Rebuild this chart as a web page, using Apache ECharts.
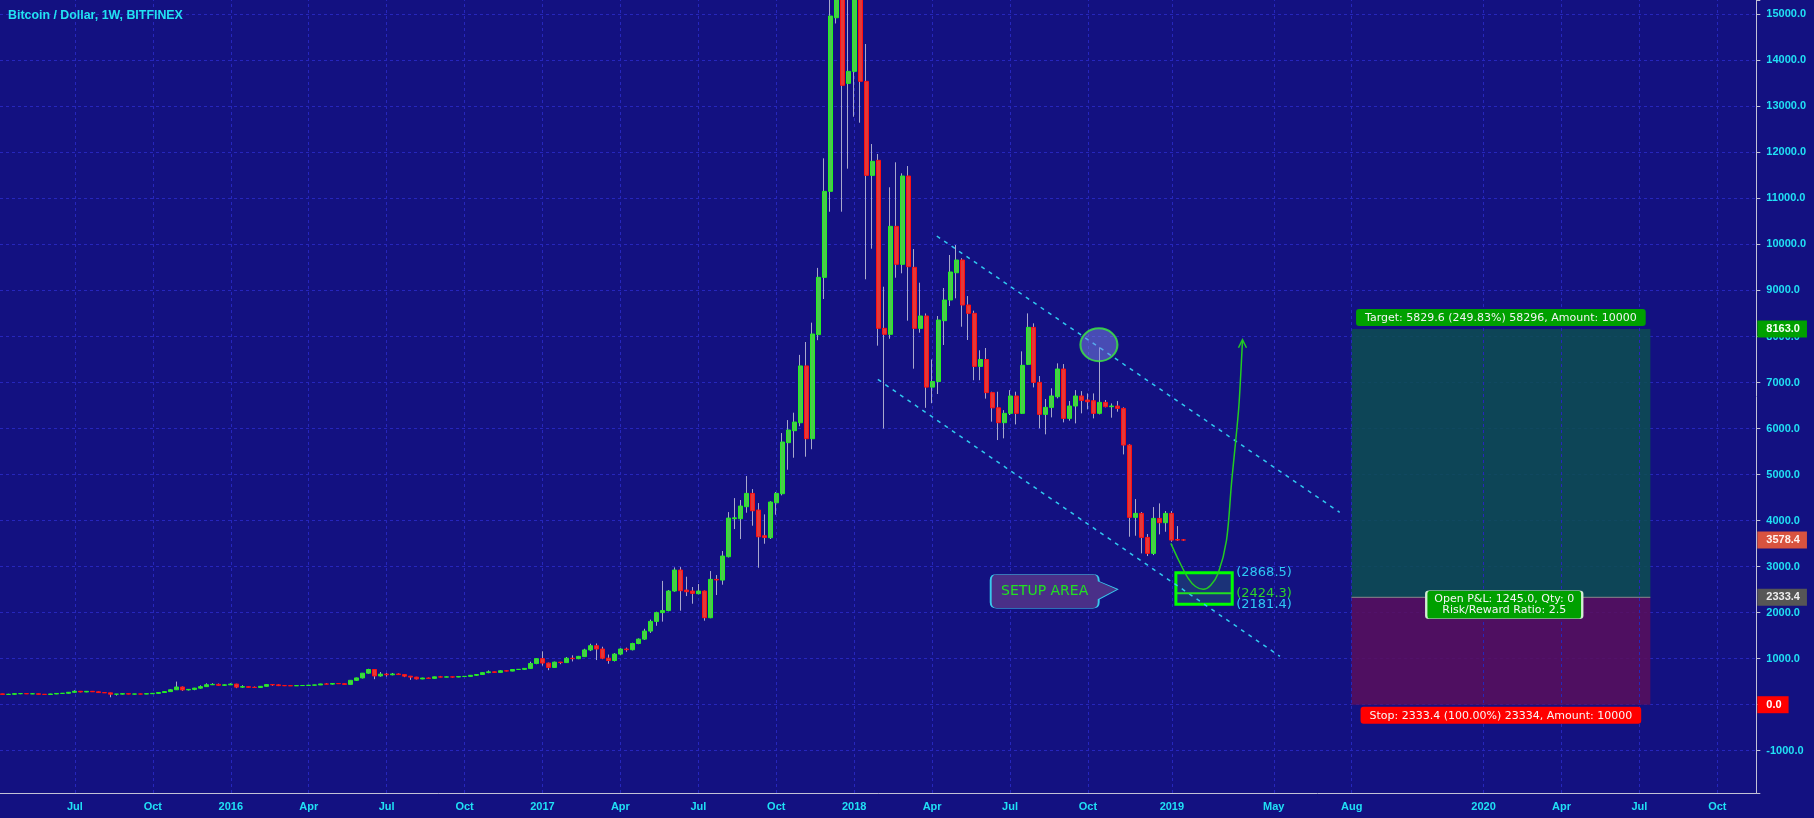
<!DOCTYPE html>
<html>
<head>
<meta charset="utf-8">
<title>Bitcoin / Dollar, 1W, BITFINEX</title>
<script src="https://cdn.jsdelivr.net/npm/echarts@6/dist/echarts.min.js"></script>
<style>
  html, body { margin: 0; padding: 0; background: #131181; }
  #chart { width: 1814px; height: 818px; }
</style>
</head>
<body>
<div id="chart"></div>
<script>
// weekly candles, [open, close, low, high], first week starts 2015-04-13
const ohlc2015 = [
  [236, 223, 218, 237], [223, 227, 219, 237], [227, 240, 223, 245], [240, 241, 229, 247],
  [241, 236, 232, 245], [236, 238, 231, 243], [238, 226, 225, 241], [226, 223, 221, 232],
  [223, 233, 222, 237], [233, 245, 230, 254], [245, 249, 240, 251], [249, 270, 245, 272],
  [270, 292, 262, 312], [292, 277, 270, 295], [277, 291, 272, 298], [291, 281, 280, 298],
  [281, 264, 260, 285], [264, 258, 257, 272], [258, 229, 162, 260], [229, 230, 199, 232],
  [230, 240, 225, 241], [240, 231, 228, 245], [231, 233, 224, 235], [233, 232, 226, 238],
  [232, 239, 230, 241], [239, 247, 235, 249], [247, 265, 245, 272], [265, 285, 264, 287],
  [285, 325, 282, 336], [325, 385, 320, 502], [385, 322, 300, 395], [322, 333, 309, 340],
  [333, 360, 315, 366], [360, 393, 350, 420], [393, 434, 390, 465], [434, 442, 427, 467],
  [442, 422, 415, 460], [422, 432, 414, 440]
];
const ohlc2016 = [
  [432, 448, 430, 465], [448, 382, 360, 455], [382, 392, 370, 423], [392, 378, 373, 400],
  [378, 375, 364, 395], [375, 400, 372, 404], [400, 437, 398, 446], [437, 432, 412, 440],
  [432, 415, 405, 440], [415, 414, 405, 420], [414, 410, 408, 420], [410, 416, 407, 418],
  [416, 418, 410, 421], [418, 424, 414, 425], [424, 430, 421, 433], [430, 451, 427, 454],
  [451, 447, 445, 470], [447, 461, 440, 463], [461, 456, 450, 462], [456, 442, 440, 458],
  [442, 530, 440, 530], [530, 582, 520, 587], [582, 685, 572, 685], [685, 765, 674, 780],
  [765, 625, 555, 770], [625, 665, 610, 710], [665, 650, 610, 690], [650, 668, 640, 690],
  [668, 655, 645, 680], [655, 620, 600, 660], [620, 600, 540, 625], [600, 560, 550, 605],
  [560, 580, 555, 585], [580, 572, 565, 590], [572, 606, 565, 608], [606, 600, 595, 625],
  [600, 605, 598, 612], [605, 601, 590, 608], [601, 613, 598, 616], [613, 616, 608, 620],
  [616, 639, 612, 645], [639, 656, 630, 660], [656, 697, 652, 705], [697, 715, 685, 745],
  [715, 702, 690, 718], [702, 738, 700, 750], [738, 731, 725, 748], [731, 765, 728, 772],
  [765, 769, 757, 774], [769, 789, 763, 790], [789, 895, 785, 935], [895, 1000, 880, 1005]
];
const ohlc2017 = [
  [1000, 905, 850, 1160], [905, 810, 750, 915], [810, 925, 805, 935], [925, 915, 880, 930],
  [915, 1010, 910, 1035], [1010, 1000, 940, 1073], [1000, 1050, 990, 1060], [1045, 1190, 1040, 1215],
  [1190, 1282, 1165, 1325], [1282, 1210, 970, 1330], [1210, 1010, 990, 1260], [1010, 960, 890, 1090],
  [960, 1100, 940, 1120], [1100, 1210, 1075, 1225], [1210, 1195, 1150, 1240], [1195, 1330, 1180, 1345],
  [1330, 1425, 1315, 1440], [1425, 1600, 1410, 1650], [1600, 1810, 1560, 1850], [1810, 2000, 1715, 2020],
  [2000, 2045, 1805, 2690], [2045, 2470, 2030, 2490], [2470, 2926, 2455, 2984], [2926, 2477, 2042, 2990],
  [2490, 2455, 2361, 2781], [2470, 2419, 2194, 2557], [2412, 2470, 2400, 2622], [2470, 1890, 1825, 2480],
  [1890, 2723, 1880, 2904], [2723, 2710, 2383, 2817], [2708, 3230, 2607, 3339], [3215, 4055, 3200, 4185],
  [4041, 4060, 3816, 4489], [4041, 4316, 3599, 4447], [4302, 4591, 4171, 4968], [4591, 4214, 3889, 4685],
  [4229, 3649, 2976, 4381], [3671, 3635, 3497, 4135], [3628, 4403, 3600, 4420], [4388, 4591, 4128, 4620],
  [4584, 5707, 4548, 5902], [5693, 5968, 5105, 6184], [5953, 6141, 5366, 6344], [6126, 7360, 6050, 7600],
  [7360, 5779, 5388, 7880], [5779, 8053, 5550, 8300], [8040, 9285, 7920, 9490], [9285, 11153, 8814, 11870],
  [11153, 14962, 10710, 17200], [14925, 19000, 14800, 19900], [19000, 13456, 10711, 19100], [13499, 13760, 11645, 16500]
];
const ohlc2018 = [
  [13760, 16200, 12774, 17250], [16200, 13543, 12644, 16700], [13543, 11500, 9242, 14354], [11500, 11805, 9907, 12181],
  [11827, 8177, 7800, 11964], [8177, 8047, 6000, 9081], [8047, 10393, 7950, 11241], [10393, 9568, 9277, 11784],
  [9568, 11486, 9372, 11545], [11486, 9516, 8343, 11703], [9502, 8177, 7300, 9900], [8177, 8445, 8082, 9168],
  [8445, 6900, 6450, 8500], [6900, 7020, 6550, 7500], [7020, 8357, 6750, 8445], [8343, 8792, 7815, 9053],
  [8792, 9401, 8662, 9770], [9385, 9661, 8829, 9987], [9661, 8684, 8212, 9700], [8684, 8503, 7923, 8879],
  [8503, 7350, 7050, 8560], [7350, 7500, 7050, 7700], [7500, 6780, 6650, 7750], [6780, 6450, 6150, 6800],
  [6450, 6127, 5750, 6800], [6127, 6330, 5787, 6400], [6330, 6707, 6294, 6835], [6707, 6330, 6090, 6800],
  [6330, 7373, 6316, 7677], [7394, 8198, 7380, 8502], [8198, 7003, 6894, 8285], [7003, 6308, 6004, 7141],
  [6308, 6460, 5874, 6641], [6460, 6707, 6243, 6873], [6691, 7293, 6655, 7416], [7293, 6221, 6134, 7401],
  [6221, 6489, 6170, 6598], [6489, 6707, 6112, 6835], [6707, 6612, 6330, 6813], [6619, 6582, 6417, 6763],
  [6604, 6330, 6221, 6763], [6330, 6569, 6308, 7763], [6569, 6475, 6460, 6619], [6475, 6489, 6236, 6546],
  [6489, 6438, 6366, 6597], [6438, 5641, 5438, 6460], [5641, 4070, 3650, 5660], [4070, 4157, 3671, 4468],
  [4157, 3635, 3288, 4186], [3635, 3288, 3230, 3708], [3288, 4048, 3250, 4294], [4048, 3954, 3700, 4374]
];
// from the week of 2018-12-31
const ohlc2019 = [
  [3954, 4157, 3758, 4207], [4157, 3577, 3540, 4207], [3590, 3577, 3560, 3881], [3580, 3578.4, 3560, 3600]
];

// time axis: weekly slots, tick marks at these weeks
const firstWeek = Date.UTC(2015, 3, 13);
const weekCount = 293;
const tickDates = ['2015-07-06', '2015-10-05', '2016-01-04', '2016-04-04', '2016-07-04', '2016-10-03',
  '2017-01-02', '2017-04-03', '2017-07-03', '2017-10-02', '2018-01-01', '2018-04-02', '2018-07-02',
  '2018-10-01', '2019-01-07', '2019-05-06', '2019-08-05', '2020-01-06', '2020-04-06', '2020-07-06', '2020-10-05'];
const tickNames = ['Jul', 'Oct', '2016', 'Apr', 'Jul', 'Oct', '2017', 'Apr', 'Jul', 'Oct', '2018', 'Apr', 'Jul',
  'Oct', '2019', 'May', 'Aug', '2020', 'Apr', 'Jul', 'Oct'];

// drawings, x in weeks from the first week
const channelUpper = [[155.78, 10183], [223.0, 4180]];
const channelLower = [[145.95, 7066], [213.03, 1051]];
const projection = [[194.83, 3506], [196.28, 3100], [197.73, 2746], [198.95, 2568], [200.23, 2507],
  [201.45, 2590], [202.73, 2855], [204.12, 3578], [204.95, 4810], [206.17, 6474], [206.78, 7908]];
const spikeMarker = [[182.83, 7821]];
const setupLevels = [2868.5, 2424.3, 2181.4];
const setupSpan = [195.67, 205.07];
const setupCallout = [175.37, 2464];
const positionSpan = [224.95, 274.83];
const targetPrice = 8163.0;
const entryPrice = 2333.4;
const stopPrice = 0.0;
const lastPrice = 3578.4;
const pnlAnchor = [250.45, 2172];

const weeks = [];
for (let i = 0; i < weekCount; i++) {
  weeks.push(new Date(firstWeek + i * 7 * 86400000).toISOString().slice(0, 10));
}
const candles = [].concat(ohlc2015, ohlc2016, ohlc2017, ohlc2018, ohlc2019);
const bodies = candles.map(([o, c]) => [o, c, Math.min(o, c), Math.max(o, c)]);

const AXIS_TEXT = '#20e0f5';
const AXIS_LINE = '#c2c2d6';
const GRID_LINE = '#2626bc';
const WICK = '#a8a8cc';
const AXIS_FONT = 'Liberation Sans';
const NOTE_FONT = 'DejaVu Sans';

const priceTags = [
  { value: targetPrice, bg: '#00a000', fg: '#f4fff4' },
  { value: lastPrice, bg: '#d9533f', fg: '#fff4f0' },
  { value: entryPrice, bg: '#565656', fg: '#eeeeee' },
  { value: stopPrice, bg: '#ff0000', fg: '#ffffff' }
];

const chart = echarts.init(document.getElementById('chart'));

const option = {
  backgroundColor: '#131181',
  animation: false,
  title: {
    text: 'Bitcoin / Dollar, 1W, BITFINEX',
    left: 8,
    top: 9,
    padding: 0,
    textStyle: { color: '#22e2f2', fontSize: 12.4, fontWeight: 'bold', fontFamily: AXIS_FONT, lineHeight: 13 }
  },
  grid: { left: -2.7, top: 0, width: 1759, height: 793 },
  xAxis: [
    {
      type: 'category',
      data: weeks,
      boundaryGap: true,
      axisLine: { onZero: false, lineStyle: { color: AXIS_LINE, width: 1 } },
      axisTick: {
        alignWithLabel: true,
        length: 4,
        lineStyle: { color: AXIS_LINE },
        interval: (i, v) => tickDates.includes(v)
      },
      axisLabel: {
        interval: (i, v) => tickDates.includes(v),
        formatter: v => tickNames[tickDates.indexOf(v)] || '',
        color: AXIS_TEXT,
        fontSize: 11,
        fontWeight: 'bold',
        fontFamily: AXIS_FONT,
        margin: 8
      },
      splitLine: { show: false }
    },
    {
      type: 'value',
      min: -0.5,
      max: weekCount - 0.5,
      show: false,
      axisLine: { onZero: false }
    }
  ],
  yAxis: {
    type: 'value',
    position: 'right',
    min: -1918,
    max: 15310,
    minInterval: 1000,
    maxInterval: 1000,
    axisLine: { show: true, onZero: false, lineStyle: { color: AXIS_LINE } },
    axisTick: { show: true, length: 4, lineStyle: { color: AXIS_LINE } },
    axisLabel: {
      formatter: v => (Math.abs(v % 1000) < 1e-6 ? v.toFixed(1) : ''),
      color: AXIS_TEXT,
      fontSize: 11,
      fontWeight: 'bold',
      fontFamily: AXIS_FONT,
      margin: 10
    },
    splitLine: {
      show: true,
      showMinLine: false,
      showMaxLine: false,
      lineStyle: { color: GRID_LINE, type: [3, 3], width: 1 }
    }
  },
  series: [
    {
      name: 'wicks',
      type: 'candlestick',
      data: candles,
      barWidth: 1,
      itemStyle: { color: WICK, color0: WICK, borderColor: WICK, borderColor0: WICK, borderWidth: 1 },
      markLine: {
        z: 1,
        silent: true,
        symbol: 'none',
        label: { show: false },
        lineStyle: { color: GRID_LINE, type: [3, 3], width: 1 },
        data: tickDates.map(d => ({ xAxis: d }))
      }
    },
    {
      name: 'bodies',
      type: 'candlestick',
      data: bodies,
      barWidth: 4.5,
      itemStyle: {
        color: '#4cc94c',
        color0: '#e2393a',
        borderColor: '#22f022',
        borderColor0: '#ff1010',
        borderWidth: 1
      },
      markLine: {
        z: 10,
        silent: true,
        symbol: 'none',
        lineStyle: { color: 'rgba(0,0,0,0)', width: 1 },
        label: {
          position: 'end',
          distance: 1,
          fontSize: 11,
          fontWeight: 'bold',
          fontFamily: AXIS_FONT,
          lineHeight: 12,
          padding: [3, 7, 2, 9]
        },
        data: priceTags.map(t => ({
          yAxis: t.value,
          label: { formatter: t.value.toFixed(1), backgroundColor: t.bg, color: t.fg }
        }))
      }
    },
    {
      name: 'channelUpper',
      type: 'line',
      xAxisIndex: 1,
      data: channelUpper,
      symbol: 'none',
      silent: true,
      lineStyle: { color: '#30c8f0', width: 1.5, type: [4, 5] }
    },
    {
      name: 'channelLower',
      type: 'line',
      xAxisIndex: 1,
      data: channelLower,
      symbol: 'none',
      silent: true,
      lineStyle: { color: '#30c8f0', width: 1.5, type: [4, 5] }
    },
    {
      name: 'position',
      type: 'line',
      xAxisIndex: 1,
      data: [[positionSpan[0], entryPrice], [positionSpan[1], entryPrice]],
      symbol: 'none',
      silent: true,
      lineStyle: { color: '#8a8a8a', width: 1 },
      markArea: {
        silent: true,
        data: [
          [
            {
              coord: [positionSpan[0], targetPrice],
              itemStyle: { color: 'rgba(13,78,80,0.86)' },
              label: {
                show: true,
                position: 'top',
                distance: 3,
                formatter: 'Target: 5829.6 (249.83%) 58296, Amount: 10000',
                backgroundColor: '#00a000',
                borderRadius: 3,
                padding: [3, 9, 2, 9],
                color: '#f2f2f2',
                fontSize: 11,
                lineHeight: 12,
                fontFamily: NOTE_FONT
              }
            },
            { coord: [positionSpan[1], entryPrice] }
          ],
          [
            {
              coord: [positionSpan[0], entryPrice],
              itemStyle: { color: 'rgba(90,15,92,0.86)' },
              label: {
                show: true,
                position: 'bottom',
                distance: 2,
                formatter: 'Stop: 2333.4 (100.00%) 23334, Amount: 10000',
                backgroundColor: '#ff0000',
                borderRadius: 3,
                padding: [3, 9, 2, 9],
                color: '#f6f6f6',
                fontSize: 11,
                lineHeight: 12,
                fontFamily: NOTE_FONT
              }
            },
            { coord: [positionSpan[1], stopPrice] }
          ]
        ]
      },
      markPoint: {
        silent: true,
        data: [{
          coord: pnlAnchor,
          symbol: 'path://M3,0 L153,0 Q156,0 156,3 L156,25 Q156,28 153,28 L3,28 Q0,28 0,25 L0,3 Q0,0 3,0 Z',
          symbolSize: [156, 28],
          symbolKeepAspect: false,
          itemStyle: { color: '#00a000', borderColor: '#d4ecd4', borderWidth: 1 },
          label: {
            show: true,
            position: 'inside',
            formatter: 'Open P&L: 1245.0, Qty: 0\nRisk/Reward Ratio: 2.5',
            color: '#f4f4f4',
            fontSize: 11,
            lineHeight: 11,
            fontFamily: NOTE_FONT
          }
        }]
      }
    },
    {
      name: 'setup',
      type: 'line',
      xAxisIndex: 1,
      data: [[setupSpan[0], setupLevels[1]], [setupSpan[1], setupLevels[1]]],
      symbol: 'none',
      silent: true,
      lineStyle: { color: '#22e022', width: 2 },
      markArea: {
        silent: true,
        itemStyle: { color: '#1b3278', borderColor: '#00ff00', borderWidth: 3 },
        data: [[{ coord: [setupSpan[0], setupLevels[0]] }, { coord: [setupSpan[1], setupLevels[2]] }]]
      },
      markLine: {
        silent: true,
        symbol: 'none',
        lineStyle: { color: 'rgba(0,0,0,0)', width: 1 },
        label: { position: 'end', distance: 4, fontSize: 13, fontFamily: NOTE_FONT },
        data: setupLevels.map((v, k) => [
          {
            coord: [setupSpan[0], v],
            label: { formatter: '(' + v.toFixed(1) + ')', color: k === 1 ? '#2bd42b' : '#2ec8f5' }
          },
          { coord: [setupSpan[1], v] }
        ])
      },
      markPoint: {
        silent: true,
        data: [{
          coord: setupCallout,
          symbol: 'path://M6,0 L102,0 Q108,0 108,6 L108,7 L127,15 L108,25 L108,28 Q108,34 102,34 L6,34 Q0,34 0,28 L0,6 Q0,0 6,0 Z',
          symbolSize: [127, 34],
          symbolKeepAspect: false,
          itemStyle: { color: '#4a2f88', borderColor: '#38c8ec', borderWidth: 1 },
          label: {
            show: true,
            position: 'inside',
            offset: [-9.5, 0],
            formatter: 'SETUP AREA',
            color: '#22e022',
            fontSize: 14,
            fontFamily: NOTE_FONT
          }
        }]
      }
    },
    {
      name: 'projection',
      type: 'line',
      xAxisIndex: 1,
      data: projection,
      smooth: 0.3,
      symbol: 'none',
      silent: true,
      z: 4,
      lineStyle: { color: '#22cc22', width: 1.5 },
      markPoint: {
        silent: true,
        data: [{
          coord: projection[projection.length - 1],
          symbol: 'path://M0,9 L5,0 L10,9',
          symbolSize: [8, 8],
          symbolKeepAspect: false,
          symbolOffset: [0, 3],
          itemStyle: { color: 'none', borderColor: '#22cc22', borderWidth: 1.5 },
          label: { show: false }
        }]
      }
    },
    {
      name: 'spike',
      type: 'scatter',
      xAxisIndex: 1,
      data: spikeMarker,
      symbol: 'circle',
      symbolSize: [37, 33],
      silent: true,
      z: 4,
      itemStyle: { color: 'rgba(128,138,232,0.62)', borderColor: '#3cf03c', borderWidth: 2 }
    }
  ]
};

chart.setOption(option);
</script>
</body>
</html>
